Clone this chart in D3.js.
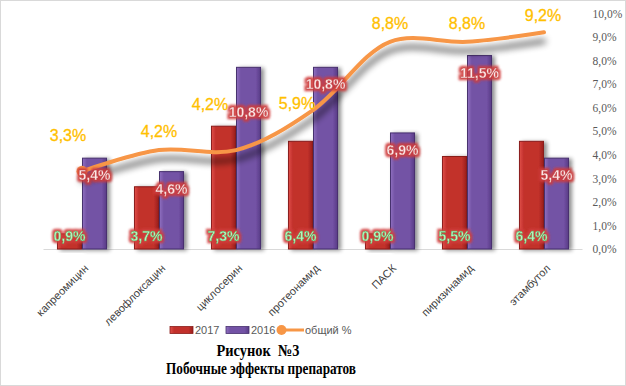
<!DOCTYPE html>
<html><head><meta charset="utf-8">
<script src="https://cdn.jsdelivr.net/npm/d3@7"></script>
<style>
html,body{margin:0;padding:0;background:#fff;}
svg{display:block;}
</style></head>
<body>
<script>
const categories = ["капреомицин","левофлоксацин","циклосерин","протеонамид","ПАСК","пиризинамид","этамбутол"];
const values2017 = [0.9, 3.7, 7.3, 6.4, 0.9, 5.5, 6.4];
const values2016 = [5.4, 4.6, 10.8, 10.8, 6.9, 11.5, 5.4];
const totalPct   = [3.3, 4.2, 4.2, 5.9, 8.8, 8.8, 9.2];
const rightTicks = [0,1,2,3,4,5,6,7,8,9,10];
const seriesNames = ["2017","2016","общий %"];
const titleLines = ["Рисунок\u00a0\u00a0№3","Побочные эффекты препаратов"];

// layout nudges for manually moved labels (pixels)
const lineLabelNudge = [[-14,-17],[0,0],[-26,-27],[-16,12],[0,0],[0,0],[-1,2]];
const barLabelNudge  = [[0,0],[0,0],[0,28],[0,0],[0,0],[0,0],[0,0]];

const W = 626, H = 386;
const svg = d3.select("body").append("svg").attr("width", W).attr("height", H);
const defs = svg.append("defs");

function barGrad(id, light, mid, dark){
  const g = defs.append("linearGradient").attr("id", id).attr("x1","0").attr("x2","1").attr("y1","0").attr("y2","0");
  g.append("stop").attr("offset","0").attr("stop-color", light);
  g.append("stop").attr("offset","0.18").attr("stop-color", mid);
  g.append("stop").attr("offset","0.8").attr("stop-color", mid);
  g.append("stop").attr("offset","1").attr("stop-color", dark);
}
barGrad("gRed", "#e0504a", "#c2302b", "#9a1f1c");
barGrad("gPur", "#8f70c0", "#7352a5", "#583c86");

const fs = defs.append("filter").attr("id","barShadow").attr("x","-30%").attr("y","-10%").attr("width","180%").attr("height","130%");
fs.append("feGaussianBlur").attr("in","SourceAlpha").attr("stdDeviation",2.2).attr("result","b");
fs.append("feOffset").attr("in","b").attr("dx",3).attr("dy",1).attr("result","o");
fs.append("feComponentTransfer").attr("in","o").attr("result","o2").append("feFuncA").attr("type","linear").attr("slope",0.45);
const fm = fs.append("feMerge"); fm.append("feMergeNode").attr("in","o2"); fm.append("feMergeNode").attr("in","SourceGraphic");

const ls = defs.append("filter").attr("id","lineShadow").attr("x","-10%").attr("y","-30%").attr("width","120%").attr("height","180%");
ls.append("feGaussianBlur").attr("in","SourceAlpha").attr("stdDeviation",3.5).attr("result","b");
ls.append("feOffset").attr("in","b").attr("dx",0).attr("dy",9).attr("result","o");
ls.append("feComponentTransfer").attr("in","o").attr("result","o2").append("feFuncA").attr("type","linear").attr("slope",0.7);
const lm = ls.append("feMerge"); lm.append("feMergeNode").attr("in","o2"); lm.append("feMergeNode").attr("in","SourceGraphic");

const gl = defs.append("filter").attr("id","glow").attr("x","-20%").attr("y","-40%").attr("width","140%").attr("height","180%");
gl.append("feMorphology").attr("in","SourceAlpha").attr("operator","dilate").attr("radius",1.6).attr("result","d");
gl.append("feGaussianBlur").attr("in","d").attr("stdDeviation",0.8).attr("result","bl");
gl.append("feFlood").attr("flood-color","#d03c3c").attr("flood-opacity",0.9).attr("result","f");
gl.append("feComposite").attr("in","f").attr("in2","bl").attr("operator","in").attr("result","glowc");
const gm = gl.append("feMerge"); gm.append("feMergeNode").attr("in","glowc"); gm.append("feMergeNode").attr("in","SourceGraphic");

svg.append("rect").attr("x",0.5).attr("y",0.5).attr("width",W-1).attr("height",H-1)
  .attr("fill","#fff").attr("stroke","#d9d9d9");

const x = d3.scaleBand().domain(categories).range([43.5, 582.5]).paddingInner(0.35).paddingOuter(0.175);
const xs = d3.scaleBand().domain(["2017","2016"]).range([0, x.bandwidth()]);
const yTop = 13.5, yBase = 249;
const yR = d3.scaleLinear().domain([0, 10]).range([yBase, yTop]);
const yB = d3.scaleLinear().domain([0, 14]).range([yBase, yTop]);

svg.append("line").attr("x1",43.5).attr("x2",582.5).attr("y1",yBase+0.5).attr("y2",yBase+0.5)
  .attr("stroke","#d9d9d9").attr("stroke-width",1);

const loc = d3.formatLocale({decimal:",", thousands:" ", grouping:[3], currency:["",""]});
const fmtAxis = v => loc.format(".1f")(v) + "%";
const axR = svg.append("g").attr("transform",`translate(582.5,0)`)
  .call(d3.axisRight(yR).tickValues(rightTicks).tickSize(0).tickPadding(10).tickFormat(fmtAxis));
axR.select(".domain").remove();
axR.selectAll("text").attr("font-family","'Liberation Serif', serif").attr("font-size","11.5px").attr("fill","#595959");

const axB = svg.append("g").attr("transform",`translate(0,${yBase})`)
  .call(d3.axisBottom(x).tickSize(0).tickPadding(0));
axB.select(".domain").remove();
axB.selectAll("text")
  .attr("font-family","'Liberation Sans', Arial, sans-serif").attr("font-size","11px").attr("fill","#404040")
  .attr("text-anchor","end").attr("dy",null).attr("y",0)
  .attr("transform","translate(7,20) rotate(-45)");

const groups = svg.append("g").selectAll("g").data(categories).join("g")
  .attr("transform", d => `translate(${x(d)},0)`);
groups.append("rect").attr("filter","url(#barShadow)")
  .attr("x", xs("2017")+0.5).attr("width", xs.bandwidth()-1)
  .attr("y",(d,i)=>yB(values2017[i])).attr("height",(d,i)=>yBase - yB(values2017[i]))
  .attr("fill","url(#gRed)").attr("stroke","#8a1c1a").attr("stroke-width",1);
groups.append("rect").attr("filter","url(#barShadow)")
  .attr("x", xs("2016")+0.5).attr("width", xs.bandwidth()-1)
  .attr("y",(d,i)=>yB(values2016[i])).attr("height",(d,i)=>yBase - yB(values2016[i]))
  .attr("fill","url(#gPur)").attr("stroke","#47306e").attr("stroke-width",1);

const fmtLbl = v => loc.format(".1f")(v) + "%";
const lineGen = d3.line().x((d,i)=>x(categories[i]) + x.bandwidth()/2).y(d=>yR(d)).curve(d3.curveCatmullRom.alpha(0.5));
svg.append("path").datum(totalPct).attr("d", lineGen)
  .attr("fill","none").attr("stroke","#f79646").attr("stroke-width",4).attr("stroke-linecap","round")
  .attr("filter","url(#lineShadow)");
svg.append("circle").attr("cx", x(categories[0]) + x.bandwidth()/2).attr("cy", yR(totalPct[0])).attr("r",5.5)
  .attr("fill","#f79646");

const labelFont = "'Liberation Sans', Arial, sans-serif";
svg.append("g").selectAll("text").data(values2017).join("text")
  .attr("x",(d,i)=>x(categories[i]) + xs("2017") + xs.bandwidth()/2)
  .attr("y", yBase - 13).attr("dy","0.36em").attr("text-anchor","middle")
  .attr("font-family",labelFont).attr("font-size","14px").attr("font-weight","bold")
  .attr("fill","#b6f5bd").attr("stroke","#2f8a45").attr("stroke-width",0.3)
  .attr("filter","url(#glow)").text(fmtLbl);

svg.append("g").selectAll("text").data(values2016).join("text")
  .attr("x",(d,i)=>x(categories[i]) + xs("2016") + xs.bandwidth()/2 + barLabelNudge[i][0])
  .attr("y",(d,i)=>yB(d) + 17 + barLabelNudge[i][1]).attr("dy","0.36em").attr("text-anchor","middle")
  .attr("font-family",labelFont).attr("font-size","14px").attr("font-weight","bold")
  .attr("fill","#fde8e8").attr("stroke","#b83a3a").attr("stroke-width",0.3)
  .attr("filter","url(#glow)").text(fmtLbl);

svg.append("g").selectAll("text").data(totalPct).join("text")
  .attr("x",(d,i)=>x(categories[i]) + x.bandwidth()/2 + lineLabelNudge[i][0])
  .attr("y",(d,i)=>yR(d) - 19 + lineLabelNudge[i][1]).attr("dy","0.36em").attr("text-anchor","middle")
  .attr("font-family",labelFont).attr("font-size","16px")
  .attr("fill","#ffc000").attr("stroke","#ffc000").attr("stroke-width",0.3).text(fmtLbl);

const lg = svg.append("g").attr("font-family","'Liberation Sans Narrow','Liberation Sans', Arial, sans-serif").attr("font-size","11px").attr("fill","#595959");
const ly = 330;
lg.append("rect").attr("x",170).attr("y",ly-3.5).attr("width",23).attr("height",7).attr("fill","url(#gRed)").attr("stroke","#8a1c1a").attr("stroke-width",0.8);
lg.append("text").attr("x",195).attr("y",ly).attr("dy","0.36em").text(seriesNames[0]);
lg.append("rect").attr("x",226).attr("y",ly-3.5).attr("width",23).attr("height",7).attr("fill","url(#gPur)").attr("stroke","#47306e").attr("stroke-width",0.8);
lg.append("text").attr("x",251).attr("y",ly).attr("dy","0.36em").text(seriesNames[1]);
lg.append("line").attr("x1",281).attr("x2",304).attr("y1",ly).attr("y2",ly).attr("stroke","#f79646").attr("stroke-width",3);
lg.append("circle").attr("cx",281.5).attr("cy",ly).attr("r",5).attr("fill","#f79646");
lg.append("text").attr("x",305).attr("y",ly).attr("dy","0.36em").text(seriesNames[2]);

const tg = svg.append("g").attr("font-family","'Liberation Serif','Times New Roman', serif").attr("font-weight","bold").attr("font-size","17px").attr("fill","#000").attr("text-anchor","middle");
tg.append("text").attr("x",258).attr("y",355.5).attr("textLength",83).attr("lengthAdjust","spacingAndGlyphs").text(titleLines[0]);
tg.append("text").attr("x",261).attr("y",374).attr("textLength",190).attr("lengthAdjust","spacingAndGlyphs").text(titleLines[1]);
</script>
</body></html>
